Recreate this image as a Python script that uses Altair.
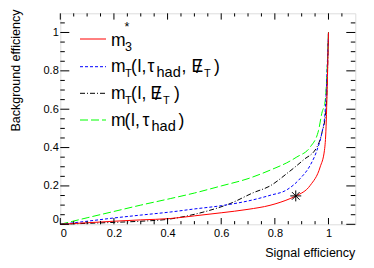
import altair as alt
import pandas as pd

# ---- data ----
red_x = [0, 0.1, 0.2, 0.3, 0.41, 0.5, 0.6, 0.7, 0.782, 0.857, 0.879, 0.932, 0.969, 0.985, 0.991, 0.994, 1.0]
red_y = [0, 0.008, 0.016, 0.023, 0.03, 0.044, 0.06, 0.078, 0.099, 0.134, 0.148, 0.203, 0.299, 0.386, 0.508, 0.647, 1.0]

blue_x = [0, 0.1, 0.2, 0.3, 0.41, 0.5, 0.6, 0.72, 0.782, 0.845, 0.894, 0.932, 0.957, 0.975, 0.987, 1.0]
blue_y = [0, 0.016, 0.033, 0.048, 0.064, 0.08, 0.097, 0.128, 0.151, 0.18, 0.238, 0.308, 0.386, 0.474, 0.578, 1.0]

black_x = [0, 0.1, 0.2, 0.3, 0.4, 0.484, 0.55, 0.633, 0.72, 0.782, 0.845, 0.906, 0.957, 0.975, 0.991, 1.0]
black_y = [0, 0.005, 0.01, 0.016, 0.026, 0.047, 0.07, 0.108, 0.165, 0.2, 0.265, 0.335, 0.403, 0.474, 0.6, 1.0]

green_x = [0, 0.1, 0.2, 0.3, 0.41, 0.5, 0.6, 0.7, 0.782, 0.857, 0.882, 0.932, 0.963, 0.975, 0.988, 1.0]
green_y = [0, 0.034, 0.067, 0.1, 0.134, 0.163, 0.2, 0.238, 0.282, 0.33, 0.351, 0.403, 0.49, 0.578, 0.647, 1.0]

star_x = [0.878]
star_y = [0.148]

tick_labels = [0, 0.2, 0.4, 0.6, 0.8, 1.0]
minor_ticks = [0.05, 0.1, 0.15, 0.25, 0.3, 0.35, 0.45, 0.5, 0.55, 0.65, 0.7, 0.75, 0.85, 0.9, 0.95, 1.05]

FONT = "Liberation Sans"
W, H = 295, 211
OX, OY = 60.3, 13.3  # plot origin on the page

xs = alt.Scale(domain=[0, 1.1], nice=False, zero=False)
ys = alt.Scale(domain=[0, 1.1], nice=False, zero=False)

xaxis = alt.Axis(values=tick_labels, format="~g", ticks=False, domain=False, grid=False,
                 labelFont=FONT, labelFontSize=11, labelColor="black", labelPadding=3, title=None)
yaxis = alt.Axis(values=tick_labels, format="~g", ticks=False, domain=False, grid=False,
                 labelFont=FONT, labelFontSize=11, labelColor="black", labelPadding=2,
                 labelFlush=True, title=None)

X = alt.X("x:Q", scale=xs, axis=xaxis)
Y = alt.Y("y:Q", scale=ys, axis=yaxis)


def curve(xv, yv):
    return pd.DataFrame({"x": xv, "y": yv, "o": list(range(len(xv)))})


layers = []
styles = [
    (green_x, green_y, "#00ff00", [8, 3]),
    (black_x, black_y, "black", [5, 2, 1, 2]),
    (blue_x, blue_y, "#0000ff", [3, 2]),
    (red_x, red_y, "#ff0000", None),
]
for xv, yv, col, dash in styles:
    kw = dict(color=col, strokeWidth=1, interpolate="monotone")
    if dash:
        kw["strokeDash"] = dash
    layers.append(alt.Chart(curve(xv, yv)).mark_line(**kw).encode(x=X, y=Y, order="o:Q"))

star_path = "M-1,0L1,0M0,-1L0,1M-0.7,-0.7L0.7,0.7M-0.7,0.7L0.7,-0.7"
layers.append(alt.Chart(pd.DataFrame({"x": star_x, "y": star_y})).mark_point(
    shape=star_path, size=120, filled=False, color="black", strokeWidth=1, opacity=1
).encode(x=X, y=Y))

# ---- inward ticks on all four sides ----
major = pd.DataFrame({"x": tick_labels, "y": tick_labels})
minor = pd.DataFrame({"x": minor_ticks, "y": minor_ticks})
for df, lx, ly in [(major, 6.3, 9.0), (minor, 3.2, 4.5)]:
    base = alt.Chart(df).mark_rule(color="black", strokeWidth=1)
    layers.append(base.encode(x=X, y=alt.value(H), y2=alt.value(H - lx)))
    layers.append(base.encode(x=X, y=alt.value(0), y2=alt.value(lx)))
    layers.append(base.encode(y=Y, x=alt.value(0), x2=alt.value(ly)))
    layers.append(base.encode(y=Y, x=alt.value(W), x2=alt.value(W - ly)))

# ---- legend ----
leg_lines = pd.DataFrame({
    "ly": [39 - OY, 66.7 - OY, 93.3 - OY, 120 - OY],
})
leg_styles = [("#ff0000", None), ("#0000ff", [3, 2]), ("black", [5, 2, 1, 2]), ("#00ff00", [8, 3])]
for i, (col, dash) in enumerate(leg_styles):
    kw = dict(color=col, strokeWidth=1)
    if dash:
        kw["strokeDash"] = dash
    layers.append(alt.Chart(leg_lines.iloc[[i]]).mark_rule(**kw).encode(
        y=alt.Y("ly:Q", scale=None), x=alt.value(80 - OX), x2=alt.value(106 - OX)))

M, S, T = 17.5, 12.5, 11  # main, sub/superscript and subscript-T font sizes
# (text, page x, page baseline y, font size)
pieces = [
    ("m", 111, 45.5, M), ("3", 125, 51, S), ("*", 124.5, 31, S),

    ("m", 111, 72, M), ("T", 125, 77, T), ("(", 131, 72, M), ("l", 137.5, 72, M), (",", 141.5, 72, M),
    ("τ", 147.5, 72, M), ("had", 156.5, 77, 14.5), (",", 181.5, 72, M),
    ("E", 191.5, 72, M), ("/", 196, 73, 19), ("T", 204, 77, T), (")", 214, 72, M),

    ("m", 111, 98.5, M), ("T", 125, 103.5, T), ("(", 131, 98.5, M), ("l", 137.5, 98.5, M),
    (",", 141.5, 98.5, M), ("E", 150.5, 98.5, M), ("/", 155, 99.5, 19), ("T", 163, 103.5, T),
    (")", 174, 98.5, M),

    ("m", 111, 125.5, M), ("(", 124.5, 125.5, M), ("l", 131, 125.5, M), (",", 135, 125.5, M),
    ("τ", 142.5, 125.5, M), ("had", 151.5, 130.5, 14.5), (")", 178.5, 125.5, M),
]
leg_text = pd.DataFrame({
    "t": [p[0] for p in pieces],
    "px": [p[1] - OX for p in pieces],
    "py": [p[2] - OY for p in pieces],
    "fs": [p[3] for p in pieces],
})
layers.append(alt.Chart(leg_text).mark_text(font=FONT, align="left", baseline="alphabetic", color="black").encode(
    x=alt.X("px:Q", scale=None), y=alt.Y("py:Q", scale=None),
    text="t:N", size=alt.Size("fs:Q", scale=None)))

# ---- axis titles ----
layers.append(alt.Chart(pd.DataFrame({"t": ["Signal efficiency"]})).mark_text(
    font=FONT, fontSize=12.5, align="right", baseline="alphabetic", color="black"
).encode(text="t:N", x=alt.value(W), y=alt.value(257 - OY)))
layers.append(alt.Chart(pd.DataFrame({"t": ["Background efficiency"]})).mark_text(
    font=FONT, fontSize=12.5, align="right", baseline="middle", angle=270, color="black"
).encode(text="t:N", x=alt.value(15.5 - OX), y=alt.value(9.5 - OY)))

chart = alt.layer(*layers).properties(
    width=W, height=H,
    autosize=alt.AutoSizeParams(type="none"),
    padding={"left": OX - 8, "top": OY - 8, "right": 374 - 16 - (OX - 8) - W, "bottom": 252 - (OY - 8) - H},
).configure_view(stroke="black", strokeWidth=1).configure(background="white")

chart.save("out.html", embed_options={"renderer": "svg", "actions": False})
